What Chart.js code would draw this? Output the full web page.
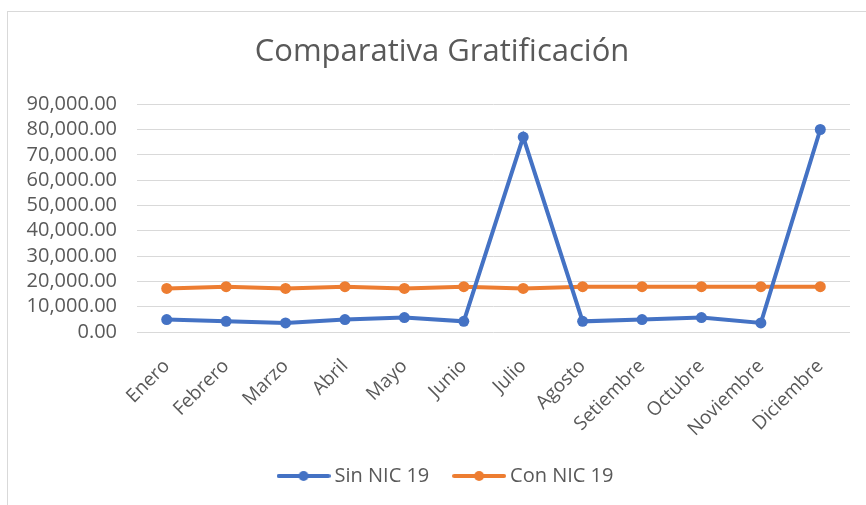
<!DOCTYPE html>
<html>
<head>
<meta charset="utf-8">
<script src="https://cdn.jsdelivr.net/npm/chart.js@4.4.1/dist/chart.umd.min.js"></script>
<style>
  html, body { margin: 0; padding: 0; background: #fff; }
  #frame {
    position: absolute; left: 7px; top: 11px; width: 900px; height: 600px;
    border-left: 1px solid #d9d9d9; border-top: 1px solid #d9d9d9;
  }
  #wrap { position: absolute; left: 0; top: 0; width: 866px; height: 505px; }
</style>
</head>
<body>
<div id="frame"></div>
<div id="wrap"><canvas id="chart" width="866" height="505"></canvas></div>
<script>
// Data
const months = ['Enero', 'Febrero', 'Marzo', 'Abril', 'Mayo', 'Junio', 'Julio',
  'Agosto', 'Setiembre', 'Octubre', 'Noviembre', 'Diciembre'];
const sinNic19 = [4900, 4200, 3600, 4900, 5700, 4200, 77000, 4200, 4900, 5700, 3600, 80000];
const conNic19 = [17200, 17900, 17200, 17900, 17200, 17900, 17200, 17900, 17900, 17900, 17900, 17900];
const yTicks = [0, 10000, 20000, 30000, 40000, 50000, 60000, 70000, 80000, 90000];

const BLUE = '#4472C4';
const ORANGE = '#ED7D31';
const TEXT = '#595959';
const FONT = "'Open Sans', sans-serif";

// legend marker: short line with a dot in the middle, like Excel
function legendMark(color) {
  const c = document.createElement('canvas');
  c.width = 54; c.height = 12;
  const g = c.getContext('2d');
  g.strokeStyle = color;
  g.lineWidth = 4;
  g.lineCap = 'round';
  g.beginPath(); g.moveTo(2, 6); g.lineTo(52, 6); g.stroke();
  g.fillStyle = color;
  g.beginPath(); g.arc(27, 6, 5, 0, Math.PI * 2); g.fill();
  return c;
}

// nudge title and legend a little right, Excel centres them on the whole frame
const nudgeBoxes = {
  id: 'nudgeBoxes',
  afterLayout(chart) {
    const shift = (box, dx) => { if (box) { box.left += dx; box.right += dx; } };
    shift(chart.titleBlock, 8);
    shift(chart.legend, 14);
  }
};

const ctx = document.getElementById('chart').getContext('2d');

new Chart(ctx, {
  type: 'line',
  data: {
    labels: months,
    datasets: [
      {
        label: 'Sin NIC 19',
        data: sinNic19,
        borderColor: BLUE,
        backgroundColor: BLUE,
        borderWidth: 4,
        pointRadius: 5.5,
        pointBorderWidth: 0,
        tension: 0,
        pointStyle: 'circle',
        legendMark: legendMark(BLUE)
      },
      {
        label: 'Con NIC 19',
        data: conNic19,
        borderColor: ORANGE,
        backgroundColor: ORANGE,
        borderWidth: 4,
        pointRadius: 5.5,
        pointBorderWidth: 0,
        tension: 0,
        pointStyle: 'circle',
        legendMark: legendMark(ORANGE)
      }
    ]
  },
  options: {
    responsive: false,
    animation: false,
    layout: { padding: { left: 18, right: 16, top: 0, bottom: 9 } },
    plugins: {
      title: {
        display: true,
        text: 'Comparativa Gratificación',
        color: TEXT,
        font: { family: FONT, size: 31, weight: 'normal' },
        padding: { top: 34, bottom: 33 }
      },
      legend: {
        position: 'bottom',
        labels: {
          color: TEXT,
          font: { family: FONT, size: 20 },
          usePointStyle: true,
          pointStyleWidth: 42,
          boxHeight: 12,
          padding: 8,
          // trailing spaces on the first entry widen the gap between the two items
          generateLabels: (chart) => chart.data.datasets.map((ds, i) => ({
            text: i === 0 ? ds.label + '    ' : ds.label,
            fontColor: TEXT,
            pointStyle: ds.legendMark,
            datasetIndex: i,
            lineWidth: 0,
            strokeStyle: 'transparent',
            fillStyle: ds.borderColor
          }))
        }
      },
      tooltip: { enabled: false }
    },
    scales: {
      x: {
        offset: true,
        grid: { display: false },
        border: { display: false },
        ticks: {
          color: TEXT,
          font: { family: FONT, size: 19 },
          minRotation: 45,
          maxRotation: 45,
          padding: 15
        },
        afterFit: (scale) => { scale.height = 126; }
      },
      y: {
        min: 0,
        max: 90000,
        afterBuildTicks: (scale) => { scale.ticks = yTicks.map(v => ({ value: v })); },
        grid: { color: '#d9d9d9', lineWidth: 1, drawTicks: false },
        border: { display: false },
        ticks: {
          color: TEXT,
          font: { family: FONT, size: 20 },
          padding: 20,
          autoSkip: false,
          callback: (v) => v.toLocaleString('en-US', { minimumFractionDigits: 2, maximumFractionDigits: 2 })
        },
        afterFit: (scale) => { scale.width = 119; }
      }
    }
  },
  plugins: [nudgeBoxes]
});
</script>
</body>
</html>
